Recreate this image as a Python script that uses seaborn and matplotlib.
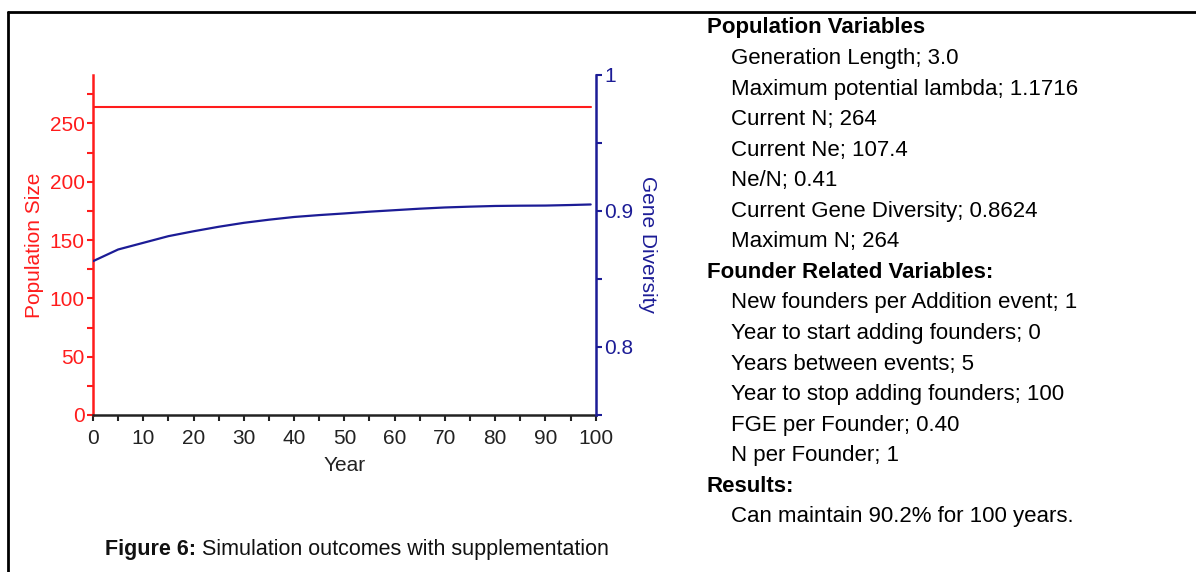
import seaborn as sns
import matplotlib.pyplot as plt
from matplotlib.ticker import MultipleLocator

# values
years = [0, 5, 10, 15, 20, 25, 30, 35, 40, 45, 50, 55, 60, 65, 70, 75, 80, 85, 90, 95, 99]
pop_size = [264] * len(years)
gene_div = [0.8631, 0.8717, 0.8766, 0.8815, 0.8851, 0.8884, 0.8913, 0.8936, 0.8956, 0.8970,
            0.8982, 0.8995, 0.9006, 0.9017, 0.9026, 0.9032, 0.9037, 0.9039, 0.9040, 0.9044, 0.9048]

x_ticks = list(range(0, 101, 10))
left_ticks = [0, 50, 100, 150, 200, 250]
right_ticks = [0.8, 0.9, 1.0]
right_labels = ['0.8', '0.9', '1']

info_lines = [
    ('Population Variables', True),
    ('Generation Length; 3.0', False),
    ('Maximum potential lambda; 1.1716', False),
    ('Current N; 264', False),
    ('Current Ne; 107.4', False),
    ('Ne/N; 0.41', False),
    ('Current Gene Diversity; 0.8624', False),
    ('Maximum N; 264', False),
    ('Founder Related Variables:', True),
    ('New founders per Addition event; 1', False),
    ('Year to start adding founders; 0', False),
    ('Years between events; 5', False),
    ('Year to stop adding founders; 100', False),
    ('FGE per Founder; 0.40', False),
    ('N per Founder; 1', False),
    ('Results:', True),
    ('Can maintain 90.2% for 100 years.', False),
]

RED = '#ff1c1c'
BLUE = '#1c1c96'
DARK = '#222222'

sns.set_style('white')
plt.rcParams['font.family'] = ['Liberation Sans', 'DejaVu Sans']

W, H = 1196, 572
fig = plt.figure(figsize=(W / 100, H / 100), dpi=100)
ax = fig.add_axes([93 / W, 1 - 415 / H, (595.7 - 93) / W, (415 - 75) / H])
ax2 = ax.twinx()

sns.lineplot(x=years, y=pop_size, ax=ax, color=RED, linewidth=1.5)
sns.lineplot(x=years, y=gene_div, ax=ax2, color=BLUE, linewidth=1.6)

ax.set_xlim(0, 100)
ax.set_ylim(0, 291.5)
ax2.set_ylim(0.75, 1.0)

ax.set_xticks(x_ticks)
ax.xaxis.set_minor_locator(MultipleLocator(5))
ax.set_yticks(left_ticks)
ax.yaxis.set_minor_locator(MultipleLocator(25))
ax2.set_yticks(right_ticks)
ax2.set_yticklabels(right_labels)
ax2.yaxis.set_minor_locator(MultipleLocator(0.05))

for a in (ax, ax2):
    a.spines['top'].set_visible(False)
    for s in a.spines.values():
        s.set_linewidth(1.8)
ax.spines['right'].set_visible(False)
ax2.spines['left'].set_visible(False)
ax2.spines['bottom'].set_visible(False)
ax.spines['left'].set_color(RED)
ax.spines['bottom'].set_color(DARK)
ax2.spines['right'].set_color(BLUE)

ax.tick_params(axis='x', which='both', direction='out', length=4, width=1.5,
               color=DARK, labelcolor=DARK, labelsize=15, bottom=True, pad=6)
ax.tick_params(axis='y', which='both', direction='out', length=4, width=1.5,
               color=RED, labelcolor=RED, labelsize=15, left=True, pad=2)
ax2.tick_params(axis='y', which='both', direction='out', length=4, width=1.5,
                color=BLUE, labelcolor=BLUE, labelsize=15, right=True, pad=2)

ax.set_xlabel('Year', fontsize=15, color=DARK, labelpad=6)
ax.set_ylabel('Population Size', fontsize=15, color=RED, labelpad=4)
ax2.set_ylabel('Gene Diversity', fontsize=15, color=BLUE, rotation=270, labelpad=17)

# frame lines of the page
fig.add_artist(plt.Line2D([8 / W, 1], [1 - 12 / H, 1 - 12 / H], color='black', linewidth=2))
fig.add_artist(plt.Line2D([8 / W, 8 / W], [0, 1 - 12 / H], color='black', linewidth=2))

# caption: bold part, then the plain rest right after it
cap = fig.text(105 / W, 1 - 549 / H, 'Figure 6:', fontsize=15.5, fontweight='bold',
               color='#111111', ha='left', va='center')
ax.annotate(' Simulation outcomes with supplementation', xy=(1, 0), xycoords=cap,
            fontsize=15.5, color='#111111', ha='left', va='bottom', annotation_clip=False)

# variable list on the right
y0 = 28
step = 30.55
for i, (line, bold) in enumerate(info_lines):
    x = 707 if bold else 731
    fig.text(x / W, 1 - (y0 + i * step) / H, line, fontsize=16,
             fontweight='bold' if bold else 'normal', color='black', ha='left', va='center')

plt.savefig('out.png', dpi=100)
